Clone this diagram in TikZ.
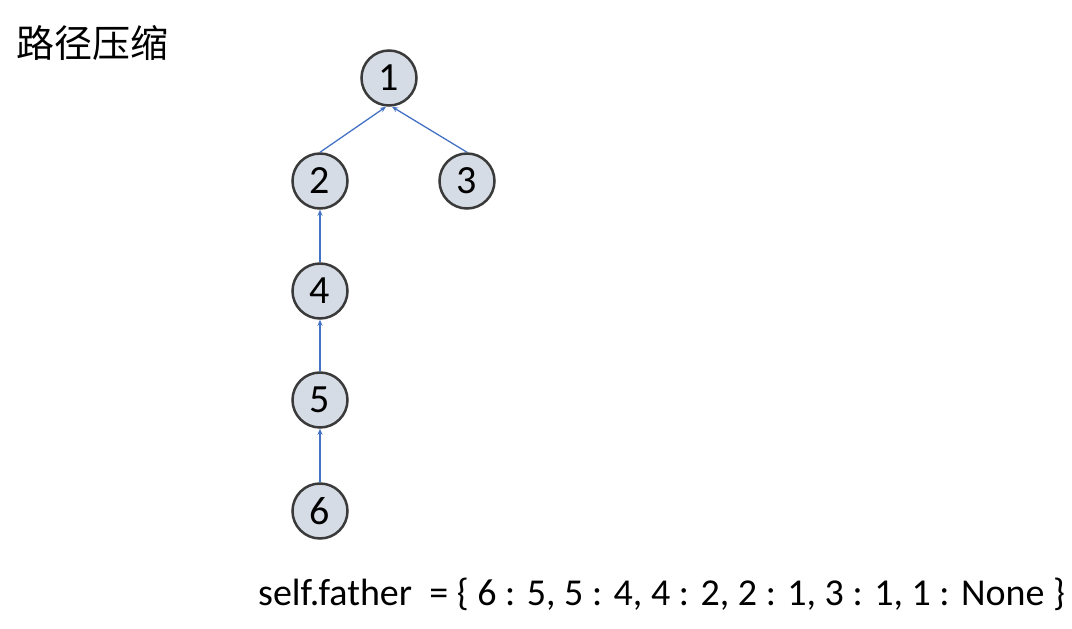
\documentclass[tikz,border=0pt]{standalone}
\usepackage{fontspec}
\setmainfont{Carlito}
\newfontfamily\cjk{Noto Sans CJK SC}
\usetikzlibrary{arrows.meta}
\definecolor{nodefill}{HTML}{D6DCE5}
\definecolor{nodeedge}{HTML}{3A3A3A}
\definecolor{edgeblue}{HTML}{4472C4}
\begin{document}
\begin{tikzpicture}[x=1pt,y=-1pt,
  tnode/.style={circle,draw=nodeedge,line width=2.5pt,fill=nodefill,minimum size=55pt,inner sep=0pt,font=\fontsize{40}{42}\selectfont},
  link/.style={draw=edgeblue,line width=1.3pt,-{Stealth[length=6pt,width=5pt]}}]
\useasboundingbox (0,0) rectangle (1072,629);
\node[anchor=west,font=\cjk\fontsize{38}{42}\selectfont,inner sep=0pt] (title) at (16,43) {路径压缩};
\node[tnode] (n1) at (389,78) {1};
\node[tnode] (n2) at (320,181) {2};
\node[tnode] (n3) at (467,181) {3};
\node[tnode] (n4) at (320,291) {4};
\node[tnode] (n5) at (320,400) {5};
\node[tnode] (n6) at (320,511) {6};
\draw[link] (n2.north) -- ([xshift=-3pt]n1.south);
\draw[link] (n3.north) -- ([xshift=3pt]n1.south);
\draw[link] (n4) -- (n2);
\draw[link] (n5) -- (n4);
\draw[link] (n6) -- (n5);
\node[anchor=base west,font=\fontsize{38}{40}\selectfont,inner sep=0pt] (dict) at (258,605) {self.father~ = \{ 6 : 5, 5 : 4, 4 : 2, 2 : 1, 3 : 1, 1 : None \}};
\end{tikzpicture}
\end{document}
